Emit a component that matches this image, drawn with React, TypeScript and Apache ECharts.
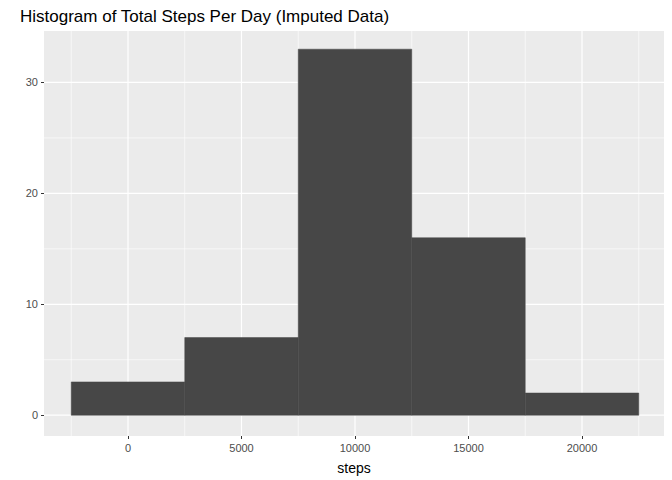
import React, { useEffect, useRef } from "react";
import * as echarts from "echarts";

const binCenters = [0, 5000, 10000, 15000, 20000];
const binWidth = 5000;
const counts = [3, 7, 33, 16, 2];
const xMajor = [0, 5000, 10000, 15000, 20000];
const xMinor = [-2500, 2500, 7500, 12500, 17500, 22500];
const yMajor = [0, 10, 20, 30];
const yMinor = [5, 15, 25];

const X_MIN = -3700, X_MAX = 23612, Y_MIN = -1.875, Y_MAX = 34.64;

export default function App() {
  const ref = useRef<HTMLDivElement>(null);
  useEffect(() => {
    const chart = echarts.init(ref.current!, null, { renderer: "svg" });
    const gridData: any[] = [];
    xMajor.forEach((v) => gridData.push([0, v, 1.2]));
    xMinor.forEach((v) => gridData.push([0, v, 0.6]));
    yMajor.forEach((v) => gridData.push([1, v, 1.2]));
    yMinor.forEach((v) => gridData.push([1, v, 0.6]));
    const lbl = { color: "#4D4D4D", fontSize: 11, fontFamily: "Liberation Sans", margin: 6, formatter: (v: number) => String(v) };
    chart.setOption({
      animation: false,
      title: {
        text: "Histogram of Total Steps Per Day (Imputed Data)",
        left: 15, top: 3,
        textStyle: { fontFamily: "Liberation Sans", fontSize: 17, fontWeight: "normal", color: "#000" },
      },
      grid: { left: 44, right: 8, top: 31, bottom: 40, show: true, backgroundColor: "#EBEBEB", borderWidth: 0 },
      xAxis: {
        type: "value", min: X_MIN, max: X_MAX,
        name: "steps", nameLocation: "middle", nameGap: 25,
        nameTextStyle: { fontFamily: "Liberation Sans", fontSize: 14, color: "#000" },
        axisLine: { show: false, onZero: false }, splitLine: { show: false },
        axisTick: { show: true, customValues: xMajor, length: 3, lineStyle: { color: "#333" } },
        axisLabel: { ...lbl, customValues: xMajor },
      },
      yAxis: {
        type: "value", min: Y_MIN, max: Y_MAX,
        axisLine: { show: false, onZero: false }, splitLine: { show: false },
        axisTick: { show: true, customValues: yMajor, length: 3, lineStyle: { color: "#333" } },
        axisLabel: { ...lbl, customValues: yMajor },
      },
      series: [
        {
          type: "custom", silent: true, data: gridData, z: 1,
          renderItem: (params: any, api: any) => {
            const dir = api.value(0), v = api.value(1), w = api.value(2);
            let p1, p2;
            if (dir === 0) { p1 = api.coord([v, Y_MIN]); p2 = api.coord([v, Y_MAX]); }
            else { p1 = api.coord([X_MIN, v]); p2 = api.coord([X_MAX, v]); }
            return { type: "line", shape: { x1: p1[0], y1: p1[1], x2: p2[0], y2: p2[1] }, style: { stroke: "#fff", lineWidth: w } };
          },
        },
        {
          type: "custom", data: binCenters.map((c, i) => [c, counts[i]]), z: 2,
          renderItem: (params: any, api: any) => {
            const c = api.value(0), n = api.value(1);
            const a = api.coord([c - binWidth / 2, n]);
            const b = api.coord([c + binWidth / 2, 0]);
            return { type: "rect", shape: { x: a[0], y: a[1], width: b[0] - a[0], height: b[1] - a[1] }, style: { fill: "#474747", stroke: "#474747", lineWidth: 0.5 } };
          },
        },
      ],
    });
    return () => chart.dispose();
  }, []);
  return <div ref={ref} style={{ position: "absolute", left: 0, top: 0, width: 672, height: 480 }} />;
}
